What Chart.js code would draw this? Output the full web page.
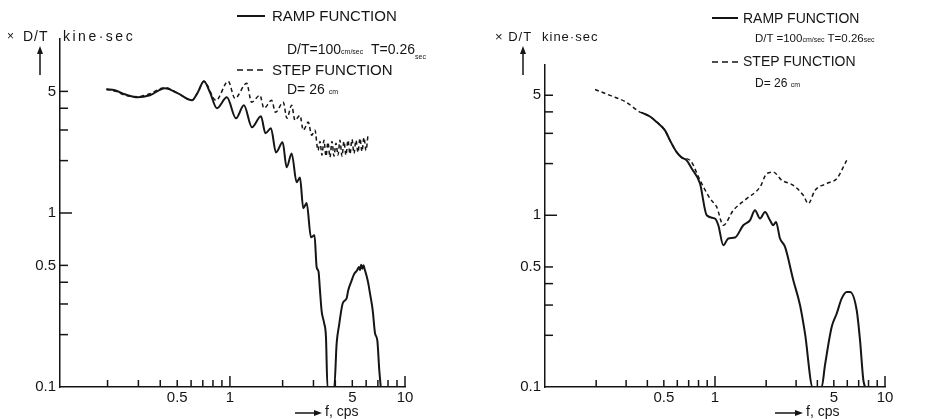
<!DOCTYPE html>
<html>
<head>
<meta charset="utf-8">
<script src="https://cdn.jsdelivr.net/npm/chart.js@4.4.0/dist/chart.umd.min.js"></script>
<style>
  body { margin: 0; background: #fff; width: 942px; height: 419px; overflow: hidden; position: relative;
         font-family: "Liberation Sans", Arial, sans-serif; color: #151515; }
  canvas { position: absolute; top: 0; }
  #left { left: 0; }
  #right { left: 470px; }
  .t { position: absolute; white-space: nowrap; line-height: 1; font-size: 14px; }
  .big { font-size: 15px; }
  .sm { font-size: 12px; }
  .u { font-size: 7px; }
  .lo { font-size: 7px; position: relative; top: 5px; }
  svg { position: absolute; left: 0; top: 0; }
</style>
</head>
<body>
<canvas id="left" width="470" height="419"></canvas>
<canvas id="right" width="472" height="419"></canvas>

<svg width="942" height="419" stroke="#151515" fill="#151515">
  <!-- legend samples -->
  <line x1="237" y1="16" x2="265" y2="16" stroke-width="2"/>
  <line x1="237" y1="70" x2="265" y2="70" stroke-width="1.6" stroke-dasharray="6 4"/>
  <line x1="712" y1="18" x2="738" y2="18" stroke-width="2"/>
  <line x1="712" y1="62" x2="738" y2="62" stroke-width="1.6" stroke-dasharray="6 4"/>
  <!-- axis arrows -->
  <line x1="40" y1="75" x2="40" y2="52" stroke-width="1.5"/>
  <polygon points="37,54 43,54 40,46" stroke="none"/>
  <line x1="523" y1="75" x2="523" y2="52" stroke-width="1.5"/>
  <polygon points="520,54 526,54 523,46" stroke="none"/>
  <line x1="295" y1="413" x2="316" y2="413" stroke-width="1.5"/>
  <polygon points="314,410 314,416 322,413" stroke="none"/>
  <line x1="775" y1="413" x2="797" y2="413" stroke-width="1.5"/>
  <polygon points="795,410 795,416 803,413" stroke="none"/>
</svg>

<!-- left panel texts -->
<div class="t sm" style="left:7px;top:30px">×</div>
<div class="t" style="left:23px;top:29px;letter-spacing:1px">D/T</div>
<div class="t" style="left:63px;top:29px;letter-spacing:2.5px">kine·sec</div>
<div class="t big" style="left:272px;top:8px">RAMP FUNCTION</div>
<div class="t" style="left:287px;top:42px">D/T=100<span class="u">cm/sec</span>&nbsp;&nbsp;T=0.26<span class="lo">sec</span></div>
<div class="t big" style="left:272px;top:62px">STEP FUNCTION</div>
<div class="t" style="left:287px;top:82px">D= 26 <span class="u">cm</span></div>
<div class="t" style="left:325px;top:404px">f, cps</div>

<!-- right panel texts -->
<div class="t" style="left:495px;top:30px;font-size:13px;letter-spacing:1px">× D/T</div>
<div class="t" style="left:542px;top:30px;font-size:13px;letter-spacing:1px">kine·sec</div>
<div class="t" style="left:743px;top:11px">RAMP FUNCTION</div>
<div class="t" style="left:755px;top:33px;font-size:11.5px">D/T =100<span class="u">cm/sec</span> T=0.26<span class="u">sec</span></div>
<div class="t" style="left:743px;top:54px">STEP FUNCTION</div>
<div class="t sm" style="left:755px;top:77px">D= 26 <span class="u">cm</span></div>
<div class="t" style="left:806px;top:404px">f, cps</div>

<script>
// ---- data (f in cps, amplitude x D/T in kine·sec) ----
const leftRampF = [0.197, 0.22, 0.251, 0.298, 0.349, 0.425, 0.505, 0.607, 0.656, 0.71, 0.769, 0.843, 0.961, 1.082, 1.202,
  1.336, 1.503, 1.596, 1.715, 1.832, 2.0, 2.109, 2.252, 2.405, 2.512, 2.624, 2.744, 2.903, 3.041, 3.129, 3.205, 3.268,
  3.342, 3.445, 3.537, 3.607, 3.945, 4.07, 4.2, 4.41, 4.64, 4.74, 4.96, 5.11, 5.32, 5.45, 5.53, 5.62, 5.7, 5.79, 5.9,
  6.04, 6.17, 6.31, 6.54, 6.74, 6.95, 7.13, 7.27];
const leftRampV = [5.14, 5.07, 4.81, 4.62, 4.75, 5.21, 4.87, 4.44, 4.94, 5.71, 4.94, 4.0, 4.62, 3.5, 4.16,
  3.11, 3.6, 2.87, 3.07, 2.23, 2.55, 1.83, 2.2, 1.5, 1.6, 1.064, 1.14, 0.725, 0.744, 0.488, 0.462, 0.36,
  0.272, 0.235, 0.193, 0.1, 0.1, 0.178, 0.226, 0.303, 0.323, 0.36, 0.41, 0.444, 0.468, 0.49, 0.47, 0.505, 0.478, 0.501, 0.47,
  0.433, 0.394, 0.345, 0.276, 0.204, 0.185, 0.125, 0.1];

const leftStepF = [0.197, 0.22, 0.251, 0.298, 0.349, 0.425, 0.505, 0.607, 0.656, 0.71, 0.832, 0.978, 1.068, 1.246, 1.33,
  1.484, 1.564, 1.731, 1.82, 2.017, 2.117, 2.252, 2.352, 2.512, 2.624, 2.802, 2.93, 3.06,
  3.184, 3.268, 3.355, 3.445, 3.537, 3.631, 3.728, 3.827, 3.929, 4.034, 4.141, 4.252, 4.365, 4.481, 4.601, 4.724,
  4.85, 4.979, 5.112, 5.248, 5.388, 5.532, 5.679, 5.831, 5.986, 6.146];
const leftStepV = [5.14, 5.02, 4.76, 4.66, 4.85, 5.26, 4.87, 4.44, 4.94, 5.71, 4.44, 5.71, 4.56, 5.56, 4.33,
  4.75, 4.0, 4.44, 3.79, 4.33, 3.5, 4.16, 3.41, 3.64, 2.99, 3.33, 2.8, 2.99,
  2.29, 2.58, 2.15, 2.62, 2.12, 2.55, 2.09, 2.58, 2.12, 2.52, 2.15, 2.62, 2.12, 2.58, 2.15, 2.62,
  2.18, 2.65, 2.2, 2.62, 2.23, 2.69, 2.26, 2.72, 2.29, 2.8];

const rightRampF = [0.3705, 0.4147, 0.454, 0.508, 0.5435, 0.595, 0.637, 0.6816, 0.7293, 0.816, 0.894, 1.0, 1.046, 1.119,
  1.197, 1.311, 1.467, 1.606, 1.719, 1.84, 1.968, 2.106, 2.203, 2.285, 2.412, 2.582, 2.888, 3.162, 3.384, 3.756,
  4.243, 4.436, 4.86, 5.2, 5.565, 5.954, 6.225, 6.816, 7.127, 7.455, 7.628];
const rightRampV = [3.96, 3.76, 3.49, 3.12, 2.73, 2.33, 2.17, 2.09, 1.87, 1.53, 1.0, 0.957, 0.875, 0.669,
  0.732, 0.742, 0.875, 0.935, 1.069, 0.957, 1.045, 0.935, 0.875, 0.914, 0.732, 0.654, 0.419, 0.3, 0.205, 0.1,
  0.1, 0.134, 0.224, 0.268, 0.328, 0.358, 0.358, 0.28, 0.188, 0.11, 0.1];

const rightStepF = [0.197, 0.241, 0.2955, 0.362, 0.3705, 0.4147, 0.454, 0.508, 0.5435, 0.595, 0.637, 0.7128, 0.816, 0.935,
  1.023, 1.119, 1.281, 1.536, 1.84, 2.014, 2.203, 2.469, 2.888, 3.307, 3.538, 3.874, 4.54, 5.2, 5.954];
const rightStepV = [5.4, 4.99, 4.6, 3.99, 3.96, 3.76, 3.49, 3.12, 2.73, 2.33, 2.17, 2.09, 1.6, 1.25,
  1.118, 0.875, 1.069, 1.25, 1.46, 1.747, 1.785, 1.6, 1.494, 1.307, 1.17, 1.397, 1.529, 1.635, 2.09];

// tick marks and which of them carry a label
const xTicks = [0.2, 0.3, 0.4, 0.5, 0.6, 0.7, 0.8, 0.9, 1, 2, 3, 4, 5, 6, 7, 8, 9, 10];
const xLabeled = [0.5, 1, 5, 10];
const yTicks = [0.1, 0.2, 0.3, 0.4, 0.5, 1, 2, 3, 4, 5];
const yLabeled = [0.1, 0.5, 1, 5];

const ink = '#151515';
const pts = (fs, vs) => fs.map((f, i) => ({ x: f, y: vs[i] }));

// ticks of the original point inwards, drawn from the scales' own tick positions
const inwardTicks = {
  id: 'inwardTicks',
  afterDraw(chart) {
    const { ctx, chartArea: a, scales: { x, y } } = chart;
    ctx.save();
    ctx.strokeStyle = ink;
    ctx.lineWidth = 1.5;
    x.ticks.forEach(t => {
      const px = x.getPixelForValue(t.value);
      const len = (t.value === 1 || t.value === 10) ? 11 : 7;
      ctx.beginPath(); ctx.moveTo(px, a.bottom); ctx.lineTo(px, a.bottom - len); ctx.stroke();
    });
    y.ticks.forEach(t => {
      if (t.value === 0.1) return;
      const py = y.getPixelForValue(t.value);
      const len = t.value === 1 ? 12 : 8;
      ctx.beginPath(); ctx.moveTo(a.left, py); ctx.lineTo(a.left + len, py); ctx.stroke();
    });
    ctx.restore();
  }
};

function panel(id, ramp, step, xMin, yMax, yWidth, pad) {
  return new Chart(document.getElementById(id), {
    type: 'line',
    data: {
      datasets: [
        { label: 'STEP FUNCTION', data: step, borderColor: ink, borderWidth: 1.5, borderDash: [4, 3],
          pointRadius: 0, cubicInterpolationMode: 'monotone' },
        { label: 'RAMP FUNCTION', data: ramp, borderColor: ink, borderWidth: 2,
          pointRadius: 0, cubicInterpolationMode: 'monotone' }
      ]
    },
    options: {
      responsive: false,
      animation: false,
      devicePixelRatio: 1,
      layout: { padding: pad },
      plugins: { legend: { display: false }, tooltip: { enabled: false } },
      scales: {
        x: {
          type: 'logarithmic', min: xMin, max: 10, bounds: 'data',
          grid: { display: false },
          border: { display: true, color: ink, width: 1.5 },
          afterBuildTicks: s => { s.ticks = xTicks.map(v => ({ value: v })); },
          afterFit: s => { s.height = 32; },
          ticks: { autoSkip: false, maxRotation: 0, padding: -6, color: ink,
                   font: { family: 'Liberation Sans', size: 15 },
                   callback: v => xLabeled.includes(v) ? String(v) : '' }
        },
        y: {
          type: 'logarithmic', min: 0.1, max: yMax, bounds: 'data',
          grid: { display: false },
          border: { display: true, color: ink, width: 1.5 },
          afterBuildTicks: s => { s.ticks = yTicks.map(v => ({ value: v })); },
          afterFit: s => { s.width = yWidth; },
          ticks: { autoSkip: false, padding: -4, color: ink,
                   font: { family: 'Liberation Sans', size: 15 },
                   callback: v => yLabeled.includes(v) ? String(v) : '' }
        }
      }
    },
    plugins: [inwardTicks]
  });
}

panel('left', pts(leftRampF, leftRampV), pts(leftStepF, leftStepV), 0.107, 10, 60,
  { top: 39, right: 65, bottom: 0, left: 0 });
panel('right', pts(rightRampF, rightRampV), pts(rightStepF, rightStepV), 0.1, 7.5, 75,
  { top: 65, right: 57, bottom: 0, left: 0 });
</script>
</body>
</html>
